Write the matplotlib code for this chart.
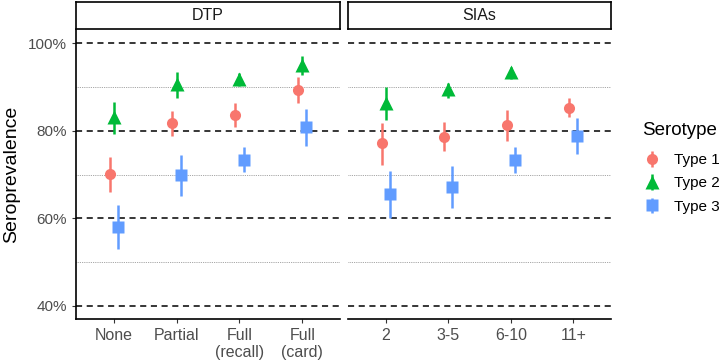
import matplotlib
matplotlib.use("Agg")
import matplotlib.pyplot as plt
import numpy as np

plt.rcParams['font.family'] = ['Liberation Sans', 'DejaVu Sans']

dtp_cats = ["None", "Partial", "Full\n(recall)", "Full\n(card)"]
sia_cats = ["2", "3-5", "6-10", "11+"]
series = ["Type 1", "Type 2", "Type 3"]
colors = ["#F8766D", "#00BA38", "#619CFF"]
markers = ["o", "^", "s"]
msizes = [8, 10, 9]

# DTP panel: estimate, lower, upper for each serotype
dtp_t1 = [70.1, 81.7, 83.7, 89.4]
dtp_t1_lo = [66.0, 78.9, 80.9, 86.3]
dtp_t1_hi = [74.0, 84.5, 86.3, 92.3]
dtp_t2 = [83.2, 90.6, 91.8, 95.1]
dtp_t2_lo = [79.3, 87.4, 90.1, 92.8]
dtp_t2_hi = [86.6, 93.5, 93.1, 97.0]
dtp_t3 = [58.0, 69.8, 73.4, 80.8]
dtp_t3_lo = [53.0, 65.2, 70.5, 76.4]
dtp_t3_hi = [63.0, 74.5, 76.3, 85.0]

# SIAs panel
sia_t1 = [77.1, 78.6, 81.2, 85.3]
sia_t1_lo = [72.2, 75.3, 77.6, 83.2]
sia_t1_hi = [81.7, 82.0, 84.7, 87.4]
sia_t2 = [86.3, 89.5, 93.3, np.nan]
sia_t2_lo = [82.4, 87.4, 91.7, np.nan]
sia_t2_hi = [90.0, 91.0, 94.6, np.nan]
sia_t3 = [65.5, 67.2, 73.4, 78.9]
sia_t3_lo = [60.0, 62.4, 70.4, 74.7]
sia_t3_hi = [70.8, 71.9, 76.2, 82.9]

major_y = [40, 60, 80, 100]
minor_y = [50, 70, 90]
ytick_labels = ["40%", "60%", "80%", "100%"]

fig = plt.figure(figsize=(7.21, 3.6), dpi=100)
W, H = 721, 360

def fx(px):
    return px / W

def fy(py):
    return 1 - py / H

panels = [
    ("DTP", dtp_cats, [(dtp_t1, dtp_t1_lo, dtp_t1_hi), (dtp_t2, dtp_t2_lo, dtp_t2_hi), (dtp_t3, dtp_t3_lo, dtp_t3_hi)], 76, 340),
    ("SIAs", sia_cats, [(sia_t1, sia_t1_lo, sia_t1_hi), (sia_t2, sia_t2_lo, sia_t2_hi), (sia_t3, sia_t3_lo, sia_t3_hi)], 348, 611),
]
offsets = [-0.065, 0.0, 0.065]
grey = "#4D4D4D"
handles = []
for pi, (title, cats, data, x0, x1) in enumerate(panels):
    ax = fig.add_axes([fx(x0), fy(319), fx(x1 - x0), fy(30) - fy(319)])
    ax.set_xlim(0.4, len(cats) + 0.6)
    ax.set_ylim(37, 103)
    for v in major_y:
        ax.axhline(v, color="black", ls=(0, (4, 3)), lw=1.1, zorder=1)
    for v in minor_y:
        ax.axhline(v, color="#888888", ls=(0, (1, 1.2)), lw=0.6, zorder=1)
    x = np.arange(1, len(cats) + 1)
    for si, (est, lo, hi) in enumerate(data):
        est = np.array(est, dtype=float)
        lo = np.array(lo, dtype=float)
        hi = np.array(hi, dtype=float)
        eb = ax.errorbar(x + offsets[si], est, yerr=[est - lo, hi - est], fmt=markers[si],
                         color=colors[si], ms=msizes[si], elinewidth=1.8, capsize=0,
                         mec="none", zorder=3, label=series[si])
        if pi == 0:
            handles.append(eb)
    ax.set_xticks(x)
    ax.set_xticklabels(cats, color=grey, fontsize=11.5)
    ax.tick_params(axis="x", length=3, color="#333333", width=0.8)
    for s in ["top", "right"]:
        ax.spines[s].set_visible(False)
    ax.spines["bottom"].set_linewidth(1.2)
    ax.spines["left"].set_linewidth(1.2)
    if pi == 0:
        ax.set_yticks(major_y)
        ax.set_yticklabels(ytick_labels, color=grey, fontsize=11)
        ax.tick_params(axis="y", length=3, color="#333333", width=0.8)
        ax.set_ylabel("Seroprevalence", fontsize=14, color="black", labelpad=6)
    else:
        ax.spines["left"].set_visible(False)
        ax.set_yticks([])
    # strip
    sax = fig.add_axes([fx(x0), fy(29), fx(x1 - x0), fy(2) - fy(29)])
    sax.set_xticks([])
    sax.set_yticks([])
    for s in sax.spines.values():
        s.set_linewidth(1.2)
        s.set_color("black")
    sax.text(0.5, 0.5, title, ha="center", va="center", fontsize=11.5, color="#1A1A1A",
             transform=sax.transAxes)

leg = fig.legend(handles=handles, labels=series, title="Serotype", loc="center left",
                 bbox_to_anchor=(fx(628), fy(168)), frameon=False, fontsize=11,
                 title_fontsize=13.5, handlelength=1.3, handletextpad=0.8, labelspacing=0.6,
                 alignment="left")
leg._legend_box.sep = 10

fig.savefig("out.png", dpi=100)
